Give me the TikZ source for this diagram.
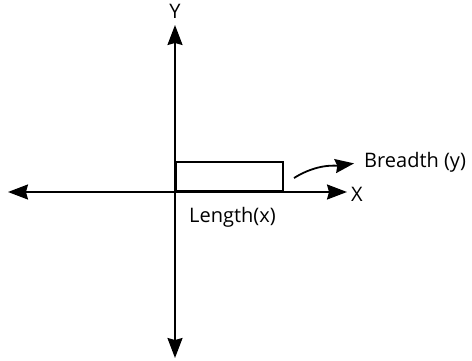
\documentclass[tikz,border=0pt]{standalone}
\usepackage{fontspec}
\setmainfont{Open Sans}
\usetikzlibrary{arrows.meta,positioning}

\begin{document}
\begin{tikzpicture}[
  x=1pt,y=-1pt,
  axis/.style={line width=1.8pt,{Stealth[length=20pt,width=15pt,inset=2pt]}-{Stealth[length=20pt,width=15pt,inset=2pt]}},
  side/.style={draw,line width=1.8pt,inner sep=0pt,anchor=south west},
  lbl/.style={inner sep=0pt,font=\fontsize{20}{24}\selectfont},
  curv/.style={line width=1.8pt,-{Stealth[length=19pt,width=14pt,inset=2pt]}}
]
\useasboundingbox (0,0) rectangle (472,361);
% ---------- axes ----------
\coordinate (o) at (175,192);
\coordinate (xneg) at (8,192);
\coordinate (xpos) at (347,192);
\coordinate (ypos) at (175,25);
\coordinate (yneg) at (175,358);
\draw[axis] (xneg) -- (xpos);
\draw[axis] (yneg) -- (ypos);
\node[lbl] (ylbl) at (175,11) {Y};
\node[lbl,anchor=west] (xlbl) at (351,194) {X};
% ---------- rectangle and its sides ----------
\node[side,minimum width=107pt,minimum height=29pt] (rect) at (o) {};
\node[lbl,anchor=west] (length) at (189,217) {Length(x)};
\coordinate (bstart) at (294,178);
\node[lbl,anchor=west] (breadth) at (364,162) {Breadth (y)};
\draw[curv,shorten >=10pt] (bstart) to[out=32,in=188] (breadth.west);
\end{tikzpicture}
\end{document}
